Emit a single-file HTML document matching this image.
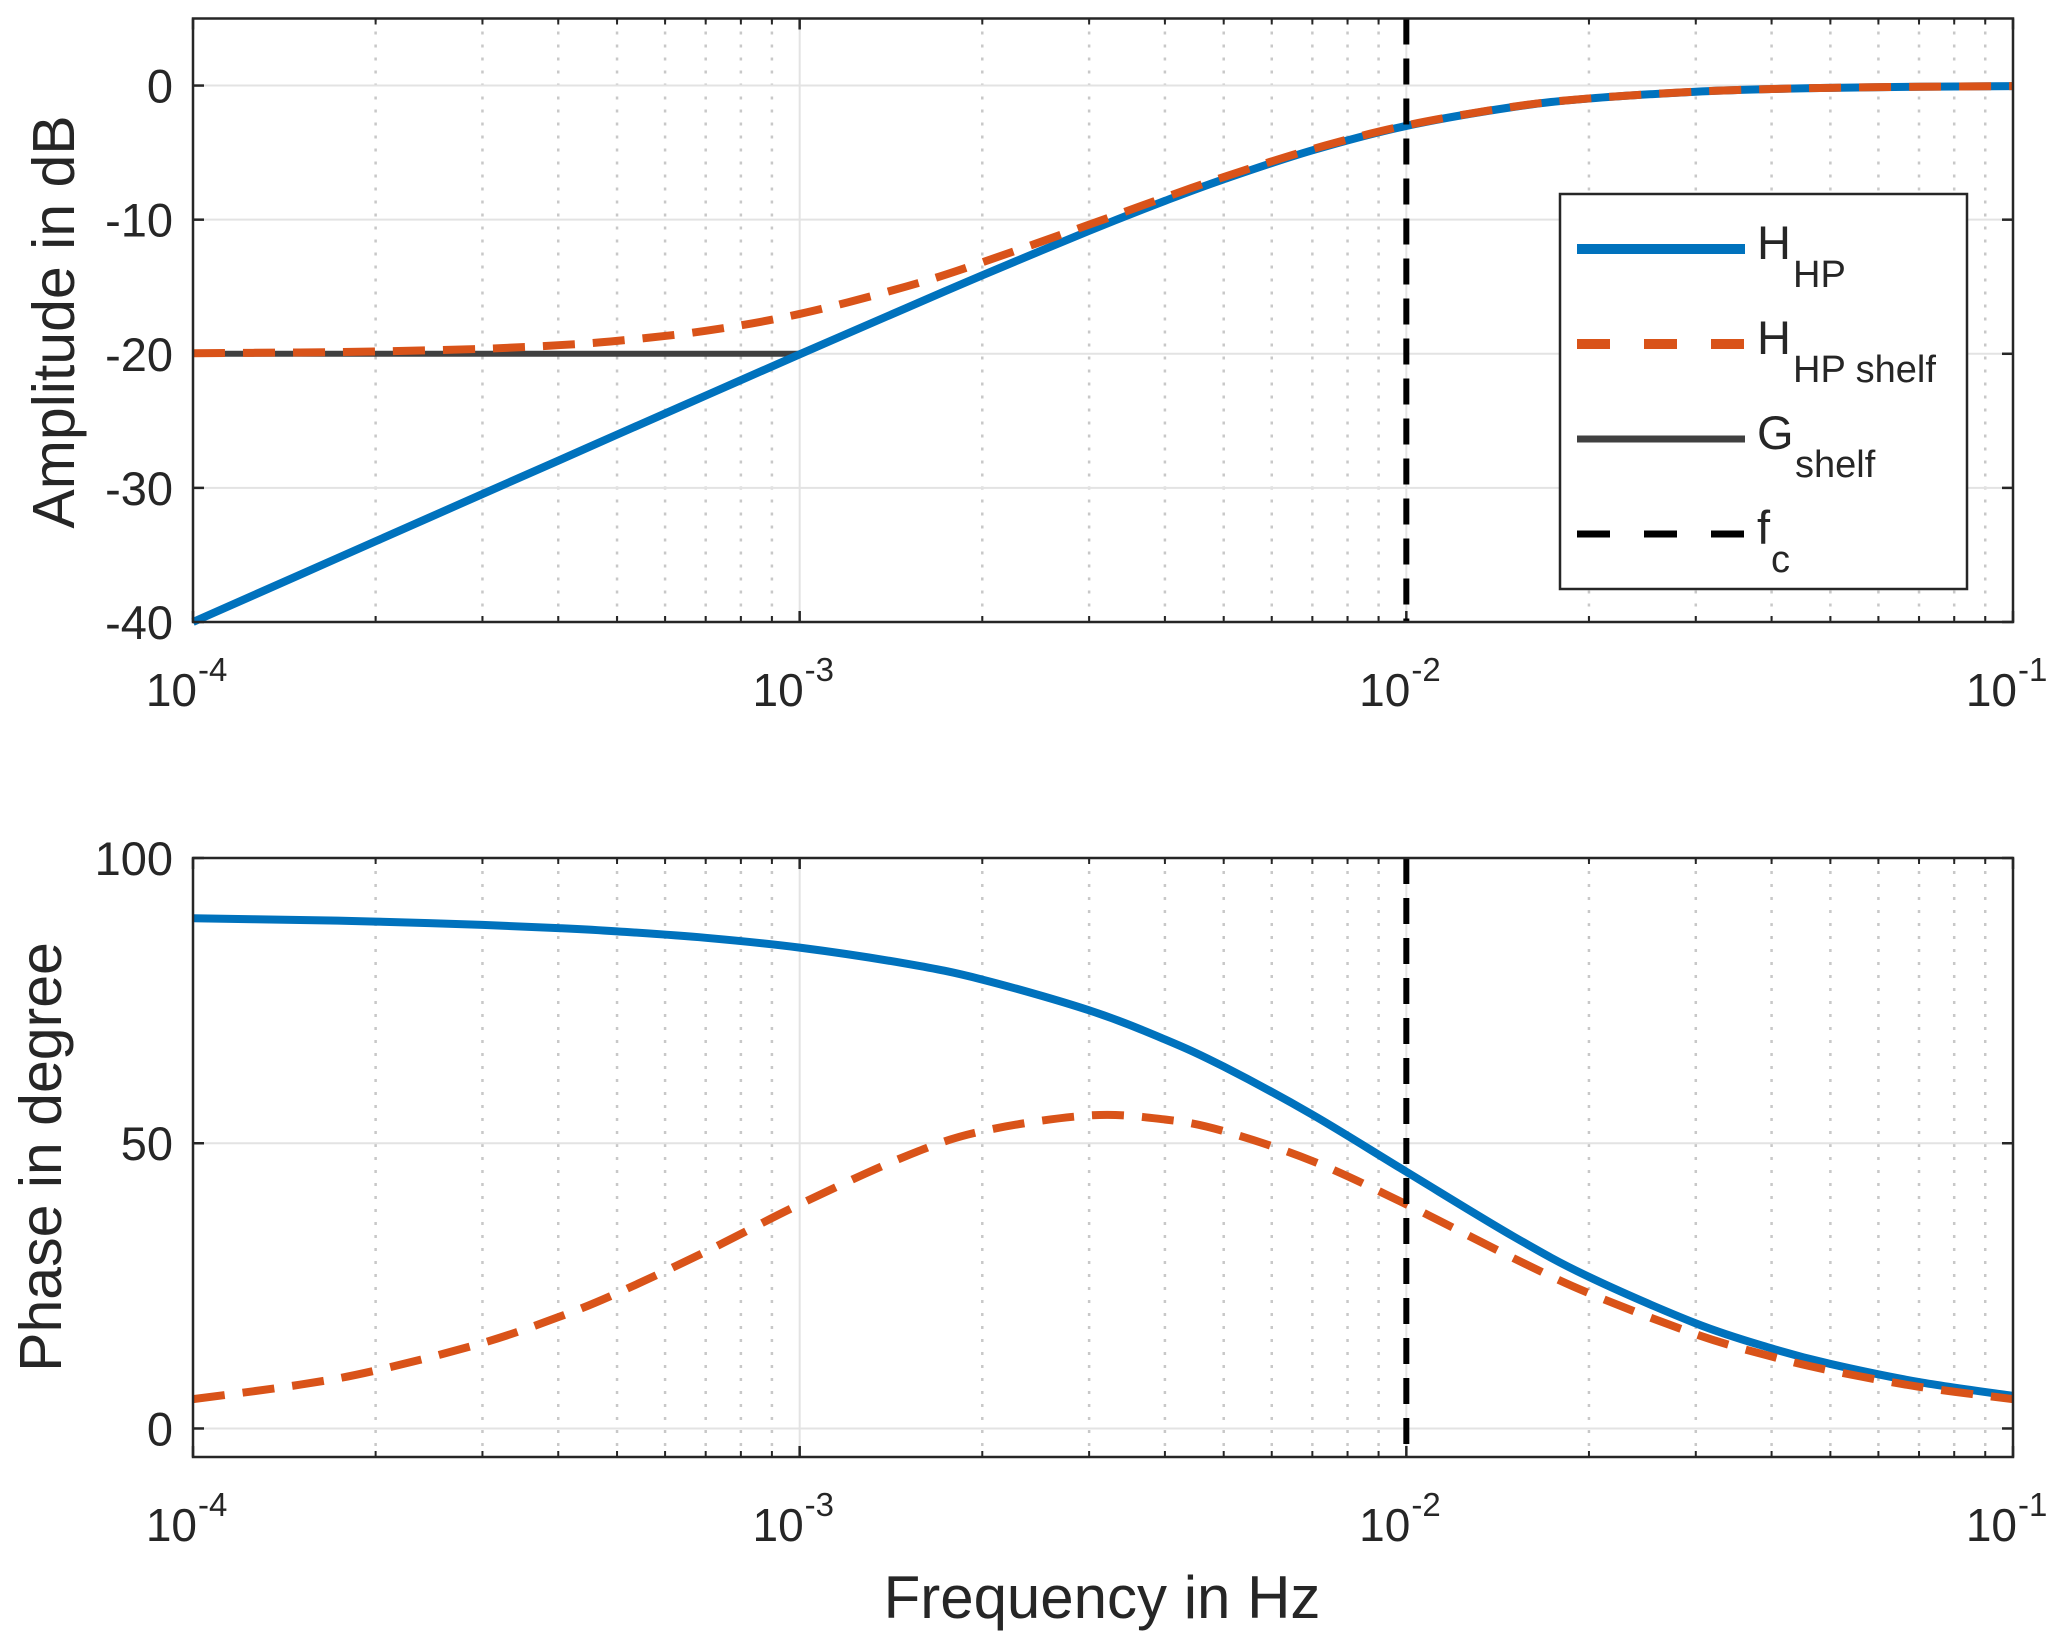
<!DOCTYPE html>
<html><head><meta charset="utf-8"><style>
html,body{margin:0;padding:0;background:#fff}
svg{display:block}
text{font-family:"Liberation Sans",Arial,sans-serif;fill:#262626}
</style></head><body>
<svg id="chart" width="2067" height="1649" viewBox="0 0 2067 1649" xmlns="http://www.w3.org/2000/svg"></svg>
<script>
const freqs=[1e-4,1.5e-4,2e-4,3e-4,4e-4,5e-4,7e-4,1e-3,1.5e-3,2e-3,3e-3,4e-3,5e-3,7e-3,1e-2,1.5e-2,2e-2,3e-2,4e-2,5e-2,7e-2,1e-1];
const ampHP=[-40.00,-36.48,-33.98,-30.46,-27.97,-26.03,-23.12,-20.04,-16.58,-14.15,-10.83,-8.60,-6.99,-4.83,-3.01,-1.60,-0.97,-0.46,-0.26,-0.17,-0.09,-0.04];
const ampShelf=[-19.96,-19.90,-19.83,-19.63,-19.36,-19.04,-18.29,-17.03,-14.98,-13.18,-10.37,-8.34,-6.82,-4.74,-2.97,-1.58,-0.96,-0.45,-0.26,-0.17,-0.09,-0.04];
const gShelfFreqs=[1e-4,1e-3];
const gShelfVals=[-20,-20];
const phaseHP=[89.43,89.14,88.85,88.28,87.71,87.14,86.01,84.29,81.47,78.69,73.30,68.20,63.43,55.01,45.00,33.69,26.57,18.43,14.04,11.31,8.13,5.71];
const phaseShelf=[5.14,7.67,10.16,14.98,19.51,23.71,30.99,39.29,47.78,52.12,54.87,54.16,52.12,46.88,39.29,29.88,23.71,16.52,12.61,10.16,7.31,5.14];
const fc=0.01;
const ampTicks=[0,-10,-20,-30,-40];
const phaseTicks=[100,50,0];
const xDecades=[-4,-3,-2,-1];

const NS="http://www.w3.org/2000/svg";
const svg=document.getElementById('chart');
function el(tag,attrs,parent){const e=document.createElementNS(NS,tag);for(const k in attrs)e.setAttribute(k,attrs[k]);(parent||svg).appendChild(e);return e;}
const X0=193,X1=2013;
function xs(f){return X0+(Math.log10(f)+4)/3*(X1-X0);}
function makeY(top,bot,lo,hi){return v=>bot-(v-lo)/(hi-lo)*(bot-top);}
function pathD(fs,vs,ys){
  const P=fs.map((f,i)=>[xs(f),ys(vs[i])]);
  let d='M'+P[0][0].toFixed(2)+','+P[0][1].toFixed(2);
  for(let i=0;i<P.length-1;i++){
    const p0=P[Math.max(0,i-1)],p1=P[i],p2=P[i+1],p3=P[Math.min(P.length-1,i+2)];
    const c1=[p1[0]+(p2[0]-p0[0])/6,p1[1]+(p2[1]-p0[1])/6];
    const c2=[p2[0]-(p3[0]-p1[0])/6,p2[1]-(p3[1]-p1[1])/6];
    d+='C'+c1[0].toFixed(2)+','+c1[1].toFixed(2)+' '+c2[0].toFixed(2)+','+c2[1].toFixed(2)+' '+p2[0].toFixed(2)+','+p2[1].toFixed(2);
  }
  return d;
}
function axes(name,top,bot,lo,hi,yt){
  const ys=makeY(top,bot,lo,hi);
  const g=el('g',{});
  
  
  for(let d=-4;d<-1;d++)for(let m=2;m<=9;m++){
    const x=xs(m*Math.pow(10,d));
    const l=el('line',{x1:x,x2:x,y1:top,y2:bot,stroke:'#c8c8c8','stroke-width':2.5,'stroke-dasharray':'3,10'},g);
    
    
    el('line',{x1:x,x2:x,y1:bot,y2:bot-6,stroke:'#262626','stroke-width':2},g);
    el('line',{x1:x,x2:x,y1:top,y2:top+6,stroke:'#262626','stroke-width':2},g);
  }
  xDecades.forEach(d=>{
    const x=xs(Math.pow(10,d));
    const l=el('line',{x1:x,x2:x,y1:top,y2:bot,stroke:'#e3e3e3','stroke-width':2},g);
    
    
    el('line',{x1:x,x2:x,y1:bot,y2:bot-11,stroke:'#262626','stroke-width':2.5},g);
    el('line',{x1:x,x2:x,y1:top,y2:top+11,stroke:'#262626','stroke-width':2.5},g);
    const t=el('text',{x:x+4,y:bot+84,'font-size':46,'text-anchor':'end'},g);
    
    
    t.textContent='10';
    const s=el('text',{x:x+5,y:bot+59,'font-size':33},g);
    s.textContent=String(d);
  });
  yt.forEach(v=>{
    const y=ys(v);
    const l=el('line',{x1:X0,x2:X1,y1:y,y2:y,stroke:'#e3e3e3','stroke-width':2},g);
    
    
    el('line',{x1:X0,x2:X0+11,y1:y,y2:y,stroke:'#262626','stroke-width':2.5},g);
    el('line',{x1:X1,x2:X1-11,y1:y,y2:y,stroke:'#262626','stroke-width':2.5},g);
    const t=el('text',{x:173,y:y+17,'font-size':47,'text-anchor':'end'},g);
    
    
    t.textContent=String(v);
  });
  return {ys,g};
}
function frame(top,bot){
  const r=el('rect',{x:X0,y:top,width:X1-X0,height:bot-top,fill:'none',stroke:'#262626','stroke-width':2.5});
  
  
}
function series(name,fs,vs,ys,color,w,dash){
  const p=el('path',{d:pathD(fs,vs,ys),fill:'none',stroke:color,'stroke-width':w,'stroke-linejoin':'round'});
  if(dash)p.setAttribute('stroke-dasharray',dash);
  
  
}
function fcLine(top,bot){
  const x=xs(fc);
  const l=el('line',{x1:x,x2:x,y1:top,y2:bot,stroke:'#000','stroke-width':6,'stroke-dasharray':'26,14'});
  
  
}
const T1=18.5,B1=622;
const a1=axes('amplitude-axes',T1,B1,-40,5,ampTicks);
series('g-shelf-line',gShelfFreqs,gShelfVals,a1.ys,'#404040',6);
series('h-hp-amplitude',freqs,ampHP,a1.ys,'#0072BD',8);
series('h-hp-shelf-amplitude',freqs,ampShelf,a1.ys,'#D95319',8,'32,18');
fcLine(T1,B1);
frame(T1,B1);
const T2=858,B2=1457;
const a2=axes('phase-axes',T2,B2,-5,100,phaseTicks);
series('h-hp-phase',freqs,phaseHP,a2.ys,'#0072BD',8);
series('h-hp-shelf-phase',freqs,phaseShelf,a2.ys,'#D95319',8,'32,18');
fcLine(T2,B2);
frame(T2,B2);
let t=el('text',{x:0,y:0,'font-size':59,'text-anchor':'middle',transform:'translate(74,322) rotate(-90)'});


t.textContent='Amplitude in dB';
t=el('text',{x:0,y:0,'font-size':59,'text-anchor':'middle',transform:'translate(61,1157) rotate(-90)'});


t.textContent='Phase in degree';
t=el('text',{x:1102,y:1618,'font-size':60,'text-anchor':'middle'});


t.textContent='Frequency in Hz';
const lg=el('g',{});


el('rect',{x:1560,y:194,width:407,height:395,fill:'#fff',stroke:'#262626','stroke-width':2.5},lg);
const legItems=[['H','HP','#0072BD',10,null,249],['H','HP shelf','#D95319',10,'33,34',344],['G','shelf','#404040',7,null,439],['f','c','#000',7,'33,34',534]];
legItems.forEach(it=>{
  const e=el('g',{},lg);
  
  
  const l=el('line',{x1:1577,x2:1745,y1:it[5],y2:it[5],stroke:it[2],'stroke-width':it[3]},e);
  if(it[4])l.setAttribute('stroke-dasharray',it[4]);
  const tx=el('text',{x:1757,y:it[5]+10,'font-size':47},e);
  tx.textContent=it[0];
  const bb=it[0]==='f'?14:it[0]==='G'?38:36;
  const sb=el('text',{x:1757+bb,y:it[5]+38,'font-size':38},e);
  sb.textContent=it[1];
});
</script>
</body></html>
